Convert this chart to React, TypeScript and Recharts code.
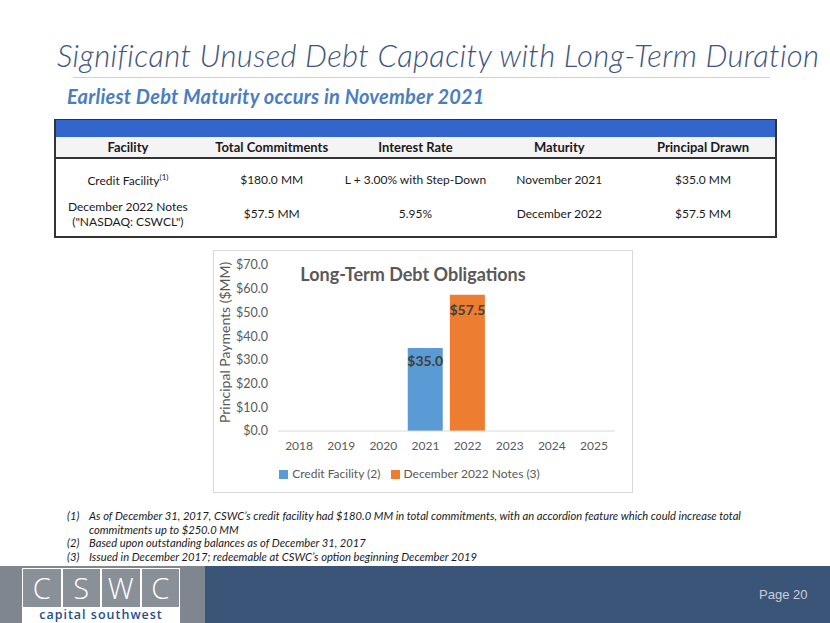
import React from "react";
import { BarChart, Bar, XAxis, YAxis, Legend, LabelList } from "recharts";

const years = ["2018", "2019", "2020", "2021", "2022", "2023", "2024", "2025"];
const creditFacility = [null, null, null, 35.0, null, null, null, null];
const december2022Notes = [null, null, null, null, 57.5, null, null, null];
const yTicks = [0, 10, 20, 30, 40, 50, 60, 70];
const boundaryTicks = [0, 1, 2, 3, 4, 5, 6, 7, 8];

const tableHead = ["Facility", "Total Commitments", "Interest Rate", "Maturity", "Principal Drawn"];
const tableRows = [
  ["Credit Facility", "$180.0 MM", "L + 3.00% with Step-Down", "November 2021", "$35.0 MM"],
  ["December 2022 Notes\n(\"NASDAQ: CSWCL\")", "$57.5 MM", "5.95%", "December 2022", "$57.5 MM"],
];

const footnotes = [
  ["(1)", "As of December 31, 2017, CSWC\u2019s credit facility had $180.0 MM in total commitments, with an accordion feature which could increase total commitments up to $250.0 MM"],
  ["(2)", "Based upon outstanding balances as of December 31, 2017"],
  ["(3)", "Issued in December 2017; redeemable at CSWC\u2019s option  beginning December 2019"],
];

const data = years.map((y, i) => ({
  year: y,
  credit: creditFacility[i],
  notes: december2022Notes[i],
}));

const font = "Lato, 'Open Sans', sans-serif";
const fmt = (v: any) => (v == null ? "" : `$${Number(v).toFixed(1)}`);

function Chart() {
  return (
    <div
      style={{
        position: "absolute",
        left: 213,
        top: 250,
        width: 420,
        height: 243,
        border: "1px solid #d9d9d9",
        boxSizing: "border-box",
        background: "#fff",
      }}
    >
      <BarChart
        width={418}
        height={241}
        data={data}
        margin={{ top: 14, right: 17, left: 0, bottom: 2 }}
        barCategoryGap="8%"
      >
        <XAxis
          xAxisId="grid"
          type="number"
          domain={[0, 8]}
          ticks={boundaryTicks}
          height={0}
          axisLine={false}
          tick={false}
          tickLine={{ stroke: "#d9d9d9" }}
          tickSize={5}
        />
        <XAxis
          dataKey="year"
          axisLine={{ stroke: "#d9d9d9" }}
          tickLine={false}
          tickSize={4}
          tickMargin={6}
          height={35}
          tick={{ fill: "#595959", fontSize: 12, fontFamily: font }}
        />
        <YAxis
          domain={[0, 70]}
          ticks={yTicks}
          tickFormatter={fmt}
          axisLine={false}
          tickLine={false}
          tickSize={0}
          tickMargin={10}
          width={64}
          tick={{ fill: "#595959", fontSize: 12.5, fontFamily: font }}
          label={{
            value: "Principal Payments ($MM)",
            angle: -90,
            position: "insideLeft",
            offset: 11,
            dy: 75,
            style: { fill: "#595959", fontSize: 14, fontFamily: font },
          }}
        />
        <Legend
          verticalAlign="bottom"
          height={24}
          iconType="square"
          iconSize={9}
          wrapperStyle={{ fontFamily: font, fontSize: 12 }}
          formatter={(v: any) => <span style={{ color: "#595959" }}>{v}</span>}
        />
        <Bar dataKey="credit" name="Credit Facility (2)" stackId="a" fill="#5b9bd5" isAnimationActive={false}>
          <LabelList
            dataKey="credit"
            position="insideTop"
            offset={8}
            formatter={fmt}
            style={{ fill: "#404040", fontSize: 14, fontWeight: 700, fontFamily: font }}
          />
        </Bar>
        <Bar dataKey="notes" name="December 2022 Notes (3)" stackId="a" fill="#ed7d31" isAnimationActive={false}>
          <LabelList
            dataKey="notes"
            position="insideTop"
            offset={10}
            formatter={fmt}
            style={{ fill: "#404040", fontSize: 14, fontWeight: 700, fontFamily: font }}
          />
        </Bar>
      </BarChart>
      <div
        style={{
          position: "absolute",
          left: 0,
          width: 398,
          top: 12,
          textAlign: "center",
          fontFamily: font,
          fontWeight: 700,
          fontSize: 18,
          color: "#595959",
          pointerEvents: "none",
        }}
      >
        Long-Term Debt Obligations
      </div>
    </div>
  );
}

function Table() {
  const col = 723 / 5;
  return (
    <div
      style={{
        position: "absolute",
        left: 54,
        top: 119,
        width: 723,
        height: 119,
        borderLeft: "2px solid #333",
        borderRight: "2px solid #333",
        borderBottom: "2px solid #333",
        borderTop: "1px solid #333",
        boxSizing: "border-box",
        fontFamily: font,
        color: "#1a1a1a",
      }}
    >
      <div style={{ height: 17, background: "#3366cc" }} />
      <div style={{ display: "flex", height: 20, background: "#f4f4f4", borderBottom: "2px solid #333", alignItems: "center" }}>
        {tableHead.map((h) => (
          <div key={h} style={{ width: col, textAlign: "center", fontWeight: 700, fontSize: 13 }}>
            {h}
          </div>
        ))}
      </div>
      {tableRows.map((r, ri) => (
        <div key={ri} style={{ display: "flex", height: ri === 0 ? 40 : 37, alignItems: "center", marginTop: ri === 0 ? 0 : -4 }}>
          {r.map((c, ci) => (
            <div key={ci} style={{ width: col, textAlign: "center", fontSize: 12, lineHeight: "15px", whiteSpace: "pre-line" }}>
              {c}
              {ri === 0 && ci === 0 ? <sup style={{ fontSize: 8 }}>(1)</sup> : null}
            </div>
          ))}
        </div>
      ))}
    </div>
  );
}

function Logo() {
  const letters = ["C", "S", "W", "C"];
  return (
    <div style={{ position: "absolute", left: 22, top: 568, width: 158, height: 55, background: "#fff" }}>
      <div style={{ display: "flex", gap: 2, padding: "1px 1px 0 1px" }}>
        {letters.map((l, i) => (
          <div
            key={i}
            style={{
              width: 38,
              height: 38,
              background: "#8a9098",
              color: "#fff",
              fontFamily: "'Open Sans', sans-serif",
              fontWeight: 300,
              fontSize: 29,
              lineHeight: "38px",
              textAlign: "center",
            }}
          >
            {l}
          </div>
        ))}
      </div>
      <div
        style={{
          textAlign: "center",
          fontFamily: "'Open Sans', sans-serif",
          fontWeight: 600,
          fontSize: 12.5,
          letterSpacing: 1,
          color: "#1f4f8f",
          lineHeight: "15px",
          marginTop: 0,
        }}
      >
        capital southwest
      </div>
    </div>
  );
}

export default function App() {
  return (
    <div style={{ position: "fixed", left: 0, top: 0, width: 830, height: 623, background: "#fff", overflow: "hidden" }}>
      <div
        style={{
          position: "absolute",
          left: 57,
          top: 36,
          fontFamily: font,
          fontStyle: "italic",
          fontWeight: 300,
          fontSize: 31,
          color: "#3d5580",
          whiteSpace: "nowrap",
          letterSpacing: 0.35,
        }}
      >
        Significant Unused Debt Capacity with Long-Term Duration
      </div>
      <div style={{ position: "absolute", left: 73, top: 77, width: 697, height: 1, background: "#d0d0d0" }} />
      <div
        style={{
          position: "absolute",
          left: 67,
          top: 84,
          fontFamily: font,
          fontStyle: "italic",
          fontWeight: 700,
          fontSize: 20,
          color: "#4a7ebf",
          whiteSpace: "nowrap",
          letterSpacing: 0.2,
        }}
      >
        Earliest Debt Maturity occurs in November 2021
      </div>
      <Table />
      <Chart />
      <div style={{ position: "absolute", left: 67, top: 509, width: 690, fontFamily: font, fontStyle: "italic", fontSize: 11.2, color: "#1a1a1a", lineHeight: "13.5px" }}>
        {footnotes.map(([n, t]) => (
          <div key={n} style={{ display: "flex" }}>
            <div style={{ width: 22, flexShrink: 0 }}>{n}</div>
            <div>{t}</div>
          </div>
        ))}
      </div>
      <div style={{ position: "absolute", left: 0, top: 566, width: 205, height: 57, background: "#7f868f" }} />
      <div style={{ position: "absolute", left: 205, top: 566, width: 625, height: 57, background: "#3b5579" }} />
      <Logo />
      <div style={{ position: "absolute", left: 759, top: 587, fontFamily: "'Liberation Sans', Arial, sans-serif", fontSize: 13, color: "#c9ced6" }}>
        Page 20
      </div>
    </div>
  );
}
